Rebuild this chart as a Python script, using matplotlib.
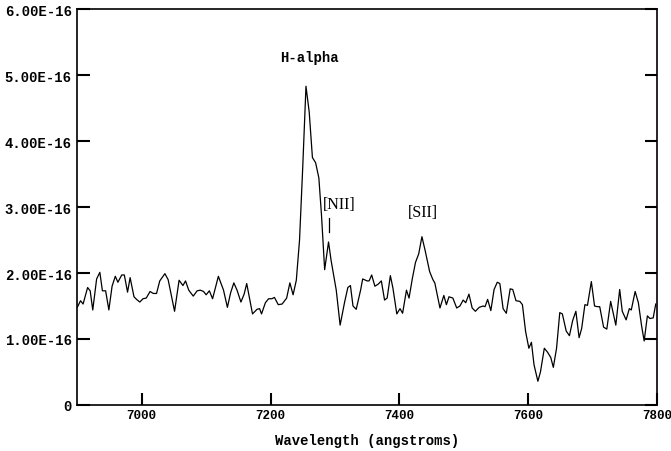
import matplotlib
matplotlib.use("Agg")
import matplotlib.pyplot as plt
from matplotlib.ticker import FixedLocator

# wavelength (angstroms) and flux (units of 1e-16)
wave = [6900, 6905, 6909, 6916, 6920, 6924, 6930, 6935, 6939, 6944,
        6949, 6954, 6959, 6963, 6969, 6973, 6978, 6982, 6988, 6992,
        6997, 7002, 7007, 7013, 7018, 7023, 7028, 7036, 7041, 7051,
        7058, 7064, 7068, 7073, 7080, 7086, 7091, 7096, 7100, 7105,
        7110, 7115, 7119, 7127, 7133, 7138, 7143, 7148, 7154, 7159,
        7163, 7172, 7179, 7183, 7186, 7192, 7197, 7202, 7206, 7212,
        7218, 7225, 7230, 7235, 7240, 7245, 7250, 7255, 7260, 7265,
        7270, 7275, 7279, 7284, 7290, 7294, 7302, 7308, 7315, 7320,
        7324, 7328, 7333, 7340, 7343, 7350, 7353, 7357, 7362, 7367,
        7372, 7377, 7381, 7386, 7390, 7396, 7401, 7405, 7411, 7415,
        7420, 7425, 7430, 7435, 7440, 7447, 7452, 7455, 7463, 7469,
        7473, 7477, 7483, 7489, 7494, 7499, 7503, 7508, 7513, 7518,
        7524, 7530, 7533, 7537, 7542, 7547, 7552, 7556, 7561, 7566,
        7572, 7576, 7581, 7587, 7591, 7596, 7601, 7605, 7609, 7615,
        7619, 7625, 7630, 7635, 7639, 7644, 7649, 7653, 7659, 7664,
        7669, 7674, 7679, 7683, 7688, 7692, 7698, 7703, 7707, 7711,
        7717, 7722, 7728, 7736, 7742, 7746, 7752, 7757, 7760, 7766,
        7771, 7776, 7780, 7785, 7789, 7794, 7798]
flux = [1.48, 1.58, 1.53, 1.78, 1.73, 1.44, 1.91, 2.01, 1.73, 1.73,
        1.44, 1.80, 1.95, 1.86, 1.97, 1.97, 1.71, 1.93, 1.64, 1.60,
        1.56, 1.61, 1.62, 1.72, 1.69, 1.69, 1.88, 1.99, 1.90, 1.42,
        1.89, 1.81, 1.88, 1.74, 1.65, 1.73, 1.74, 1.72, 1.67, 1.73,
        1.61, 1.80, 1.95, 1.74, 1.48, 1.70, 1.85, 1.74, 1.56, 1.68,
        1.84, 1.38, 1.45, 1.46, 1.38, 1.55, 1.61, 1.61, 1.63, 1.52,
        1.53, 1.62, 1.85, 1.67, 1.89, 2.50, 3.61, 4.83, 4.44, 3.75,
        3.67, 3.44, 2.89, 2.05, 2.47, 2.19, 1.74, 1.21, 1.56, 1.78,
        1.81, 1.50, 1.45, 1.75, 1.91, 1.88, 1.88, 1.97, 1.80, 1.83,
        1.88, 1.59, 1.62, 1.96, 1.77, 1.38, 1.46, 1.39, 1.74, 1.62,
        1.91, 2.16, 2.29, 2.55, 2.34, 2.02, 1.90, 1.85, 1.47, 1.66,
        1.52, 1.64, 1.62, 1.47, 1.50, 1.59, 1.55, 1.68, 1.47, 1.42,
        1.48, 1.50, 1.49, 1.60, 1.43, 1.75, 1.86, 1.84, 1.46, 1.39,
        1.76, 1.75, 1.58, 1.57, 1.52, 1.11, 0.86, 0.95, 0.61, 0.36,
        0.50, 0.86, 0.80, 0.72, 0.57, 0.86, 1.40, 1.38, 1.12, 1.05,
        1.28, 1.42, 1.02, 1.16, 1.52, 1.51, 1.87, 1.50, 1.49, 1.49,
        1.18, 1.15, 1.57, 1.21, 1.75, 1.42, 1.29, 1.46, 1.44, 1.72,
        1.55, 1.20, 0.97, 1.35, 1.31, 1.32, 1.53]

xticks = [7000, 7200, 7400, 7600, 7800]
yticks = [0, 1e-16, 2e-16, 3e-16, 4e-16, 5e-16, 6e-16]
ytick_labels = ["0", "1.00E-16", "2.00E-16", "3.00E-16", "4.00E-16", "5.00E-16", "6.00E-16"]

lines = [("H-alpha", 7261, 5.27e-16), ("[NII]", 7306, 3.05e-16), ("[SII]", 7437, 2.92e-16)]
nii_mark = (7291, 2.62e-16, 2.83e-16)

MONO = "Liberation Mono"
SERIF = "Liberation Serif"

fig = plt.figure(figsize=(6.71, 4.52), dpi=100)
ax = fig.add_axes([0.1152, 0.1018, 0.864, 0.876])

ax.plot(wave, [f * 1e-16 for f in flux], color="black", lw=0.9)

ax.set_xlim(6900, 7800)
ax.set_ylim(0, 6e-16)
ax.xaxis.set_major_locator(FixedLocator(xticks))
ax.set_xticklabels([str(t) for t in xticks], family=MONO, fontweight="bold", fontsize=9)
ax.set_yticks(yticks)
ax.set_yticklabels(ytick_labels, family=MONO, fontweight="bold", fontsize=10)
ax.tick_params(direction="in", length=9, width=1.5, top=False, right=True)
ax.tick_params(axis="x", pad=3)
ax.tick_params(axis="y", pad=4)
for s in ax.spines.values():
    s.set_linewidth(1.2)

ax.set_xlabel("Wavelength (angstroms)", family=MONO, fontweight="bold", fontsize=10, labelpad=8.5)

# line labels
ax.text(lines[0][1], lines[0][2], lines[0][0], family=MONO, fontweight="bold",
        fontsize=10, ha="center", va="center")
for name, x, y in lines[1:]:
    ax.text(x, y, name, family=SERIF, fontsize=11.5, ha="center", va="center")
ax.plot([nii_mark[0], nii_mark[0]], [nii_mark[1], nii_mark[2]], color="black", lw=0.9)

fig.savefig("out.png", dpi=100)
